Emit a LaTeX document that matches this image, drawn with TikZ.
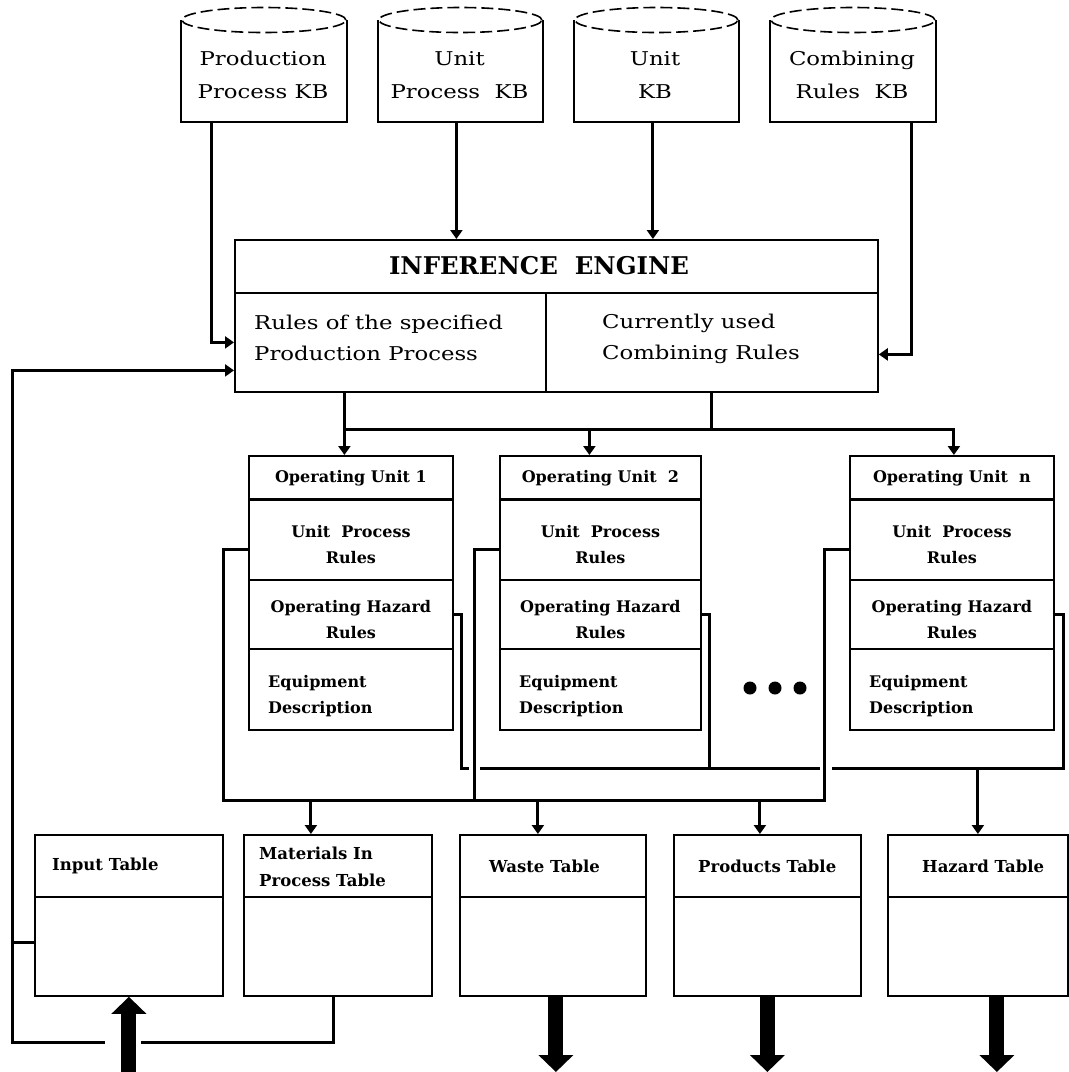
\documentclass[tikz,border=0pt]{standalone}
\usepackage{fontspec}
\newfontfamily\upf[FakeStretch=1.2]{DejaVu Serif}
\newfontfamily\bdf{DejaVu Serif Bold}
\usetikzlibrary{arrows.meta}
\begin{document}
\begin{tikzpicture}[x=1pt,y=-1pt,
  bx/.style={draw, line width=1.8pt, inner sep=0pt, anchor=north west},
  wire/.style={line width=3pt},
  conn/.style={line width=3pt, -{Triangle[width=12pt,length=9pt]}},
  fat/.style={line width=15pt, -{Triangle[width=34pt,length=17pt]}},
  cyl/.style={line width=2pt},
  cyldash/.style={line width=1.6pt, dash pattern=on 12pt off 5pt},
  upt/.style={font=\upf\fontsize{19}{33}\selectfont, align=center, inner sep=0pt},
  iet/.style={font=\bdf\fontsize{24.4}{28}\selectfont, inner sep=0pt},
  iel/.style={font=\upf\fontsize{19}{31}\selectfont, align=left, anchor=west, inner sep=0pt},
  lot/.style={font=\bdf\fontsize{16}{26}\selectfont, align=center, inner sep=0pt},
  tbt/.style={font=\bdf\fontsize{16.5}{27}\selectfont, align=left, anchor=west, inner sep=0pt},
  dot/.style={circle, fill=black, inner sep=0pt, minimum size=13pt}
]
\useasboundingbox (0,0) rectangle (1069,1072);

% ---------- knowledge bases (cylinders) ----------
\foreach \n/\x/\w in {kb1/181/164, kb2/378/163, kb3/574/163, kb4/770/164} {
  \node[bx, draw=none, minimum width=\w pt, minimum height=100pt] (\n) at (\x,20) {};
  \draw[cyl] (\n.north west) -- (\n.south west) -- (\n.south east) -- (\n.north east);
  \draw[cyldash] (\n.north) ellipse [x radius=\w pt/2, y radius=12.5pt];
}
\node[upt] (kb1t) at (263,75) {Production\\Process KB};
\node[upt] (kb2t) at (459.5,75) {Unit\\Process~~KB};
\node[upt] (kb3t) at (655,75) {Unit\\KB};
\node[upt] (kb4t) at (852,75) {Combining\\Rules~~KB};

% ---------- inference engine ----------
\node[bx, minimum width=643pt, minimum height=53pt] (ieT) at (234,239) {};
\node[bx, minimum width=311pt, minimum height=99pt] (ieL) at (234,292) {};
\node[bx, minimum width=332pt, minimum height=99pt] (ieR) at (545,292) {};
\node[iet] (ieTt) at (539,266) {INFERENCE~~ENGINE};
\node[iel] (ieLt) at (254,338) {Rules of the specified\\Production Process};
\node[iel] (ieRt) at (602,339) {Currently used\\Combining Rules};

% ---------- operating units ----------
\foreach \n/\x/\w/\lab in {u1/248/204/{Operating Unit 1}, u2/499/201/{Operating Unit~~2}, un/849/204/{Operating Unit~~n}} {
  \node[bx, minimum width=\w pt, minimum height=43pt] (\n T) at (\x,455) {};
  \node[bx, minimum width=\w pt, minimum height=81pt] (\n U) at (\x,498) {};
  \node[bx, minimum width=\w pt, minimum height=69pt] (\n H) at (\x,579) {};
  \node[bx, minimum width=\w pt, minimum height=81pt] (\n E) at (\x,648) {};
  \draw[line width=3pt] (\n T.south west) -- (\n T.south east);
  \node[lot] (\n Tt) at ([yshift=-1pt]\n T) {\lab};
  \node[lot] (\n Ut) at ([yshift=-5pt]\n U) {Unit~~Process\\Rules};
  \node[lot] (\n Ht) at ([yshift=-5pt]\n H) {Operating Hazard\\Rules};
  \node[lot, anchor=west, align=left] (\n Et) at ([xshift=20pt,yshift=-7pt]\n E.west) {Equipment\\Description};
}
\node[dot] (d1) at (750,688) {};
\node[dot] (d2) at (775,688) {};
\node[dot] (d3) at (800,688) {};

% ---------- tables ----------
\foreach \n/\x/\w in {tIn/34/188, tMat/243/188, tW/459/186, tP/673/187, tH/887/180} {
  \node[bx, minimum width=\w pt, minimum height=62pt] (\n T) at (\x,834) {};
  \node[bx, minimum width=\w pt, minimum height=99pt] (\n B) at (\x,896) {};
}
\node[tbt] (tInt) at (52,866) {Input Table};
\node[tbt] (tMatt) at (259,867) {Materials In\\Process Table};
\node[tbt] (tWt) at (489,866) {Waste Table};
\node[tbt] (tPt) at (698,866) {Products Table};
\node[tbt] (tHt) at (922,866) {Hazard Table};

% ---------- connectors: KBs to inference engine ----------
\coordinate (k2) at ([xshift=-4pt]kb2.south);
\coordinate (k3) at ([xshift=-3.5pt]kb3.south);
\draw[conn] ([xshift=-52pt]kb1.south) |- (ieL.west);
\draw[conn] (k2) -- (k2 |- ieT.north);
\draw[conn] (k3) -- (k3 |- ieT.north);
\draw[conn] ([xshift=59pt]kb4.south) |- ([yshift=-12pt]ieR.east);

% ---------- inference engine to units ----------
\coordinate (busY) at (0,429);
\coordinate (ieA) at ([xshift=-46pt]ieL.south);
\coordinate (unA) at ([xshift=2pt]unT.north);
\coordinate (u2A) at ([xshift=-11pt]u2T.north);
\draw[conn] (ieA) -- (ieA |- u1T.north);
\draw[conn] (ieA |- busY) -| (unA);
\draw[wire] (ieR.south) -- (ieR.south |- busY);
\draw[conn] (u2A |- busY) -- (u2A);

% ---------- bus A (unit process rules) ----------
\coordinate (bA1) at (223,800);
\coordinate (bA2) at (474,800);
\coordinate (bA3) at (824,800);
\draw[wire] ([yshift=-10pt]u1U.west) -| (bA1) -- (bA3) |- ([yshift=-10pt]unU.west);
\draw[wire] ([yshift=-10pt]u2U.west) -| (bA2);
\coordinate (mA) at ([xshift=-27pt]tMatT.north);
\coordinate (wA) at ([xshift=-15pt]tWT.north);
\coordinate (pA) at ([xshift=-7.5pt]tPT.north);
\draw[conn] (mA |- bA1) -- (mA);
\draw[conn] (wA |- bA1) -- (wA);
\draw[conn] (pA |- bA1) -- (pA);

% ---------- bus B (operating hazard rules) ----------
\coordinate (bB1) at (461,768);
\coordinate (bB1e) at (469,768);
\coordinate (bB2s) at (480,768);
\coordinate (bB2e) at (820,768);
\coordinate (bB3s) at (832,768);
\coordinate (bB3) at (1063,768);
\coordinate (bBu2) at (709,768);
\draw[wire] (u1H.east) -| (bB1) -- (bB1e);
\draw[wire] (bB2s) -- (bB2e);
\draw[wire] (u2H.east) -| (bBu2);
\draw[wire] (unH.east) -| (bB3) -- (bB3s);
\draw[conn] (tHT.north |- bB3) -- (tHT.north);

% ---------- feedback loop ----------
\coordinate (fbC) at (12,1042);
\coordinate (fbL) at (105,1042);
\coordinate (fbR) at (141,1042);
\coordinate (mB) at ([xshift=-4pt]tMatB.south);
\coordinate (inL) at ([yshift=4pt]tInB.west);
\draw[wire] (mB) |- (fbR);
\draw[conn] (fbL) -- (fbC) |- ([yshift=-28pt]ieL.west);
\draw[wire] (inL) -- (inL -| fbC);

% ---------- thick in/out arrows ----------
\coordinate (bot) at (0,1072);
\coordinate (wO) at ([xshift=3pt]tWB.south);
\coordinate (hO) at ([xshift=19pt]tHB.south);
\draw[fat] (tInB.south |- bot) -- (tInB.south);
\draw[fat] (wO) -- (wO |- bot);
\draw[fat] (tPB.south) -- (tPB.south |- bot);
\draw[fat] (hO) -- (hO |- bot);
\end{tikzpicture}
\end{document}
